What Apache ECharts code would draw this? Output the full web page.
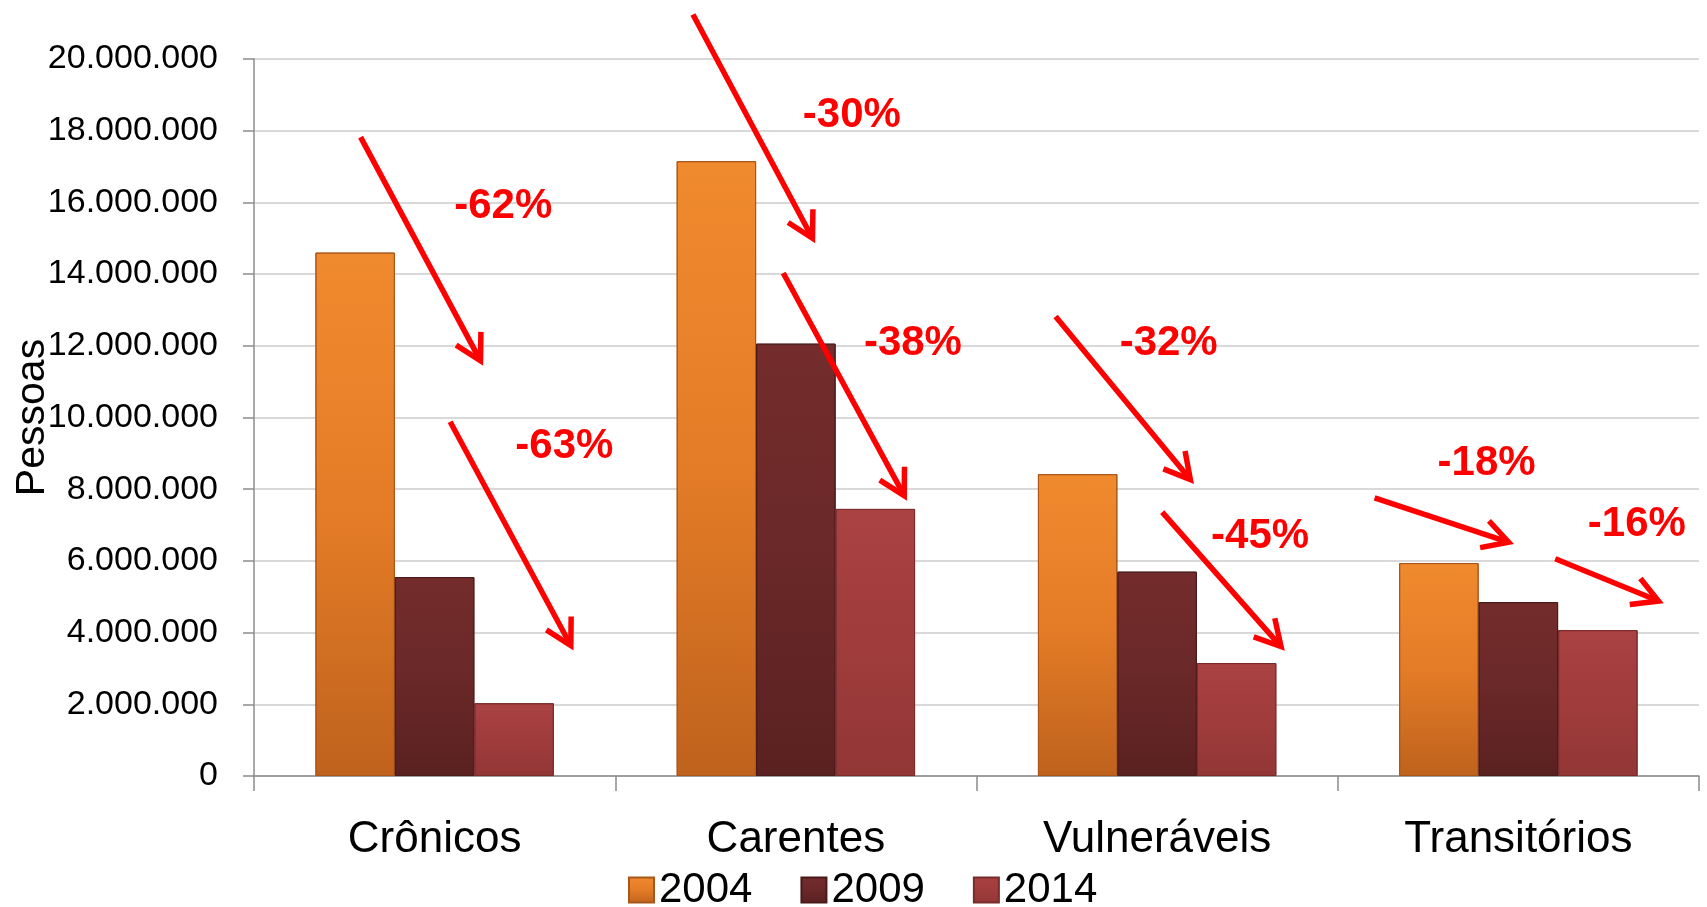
<!DOCTYPE html>
<html>
<head>
<meta charset="utf-8">
<script src="https://cdn.jsdelivr.net/npm/echarts@6/dist/echarts.min.js"></script>
<style>
html,body{margin:0;padding:0;background:#fff;}
#chart{width:1707px;height:907px;}
</style>
</head>
<body>
<div id="chart"></div>
<script>
// ---- data ----
const categories = ['Crônicos', 'Carentes', 'Vulneráveis', 'Transitórios'];
const years = ['2004', '2009', '2014'];
const v2004 = [14600000, 17150000, 8420000, 5940000];
const v2009 = [5550000, 12060000, 5700000, 4850000];
const v2014 = [2030000, 7450000, 3150000, 4070000];
const yMin = 0, yMax = 20000000, yStep = 2000000;
const yAxisName = 'Pessoas';

// annotation arrows (x in category units 0..4, y in persons)
const arrowFrom = [[0.295, 17820000], [0.543, 9880000], [1.215, 21240000], [1.465, 14030000],
                   [2.219, 12820000], [2.514, 7360000], [3.102, 7760000], [3.602, 6060000]];
const arrowTo   = [[0.627, 11580000], [0.877, 3640000], [1.546, 15000000], [1.800, 7820000],
                   [2.592, 8270000], [2.843, 3610000], [3.473, 6520000], [3.888, 4880000]];
const changeLabels = ['-62%', '-63%', '-30%', '-38%', '-32%', '-45%', '-18%', '-16%'];
const labelPos = [[0.690, 15900000], [0.859, 9180000], [1.655, 18420000], [1.824, 12060000],
                  [2.532, 12060000], [2.785, 6670000], [3.412, 8730000], [3.828, 7030000]];

const FONT = '"Liberation Sans", Arial, sans-serif';

function grad(c0, c1, c2) {
  return new echarts.graphic.LinearGradient(0, 0, 0, 1, [
    {offset: 0, color: c0}, {offset: 0.5, color: c1}, {offset: 1, color: c2}
  ]);
}
function fmt(v) {
  return String(v).replace(/\B(?=(\d{3})+(?!\d))/g, '.');
}

const chart = echarts.init(document.getElementById('chart'), null, {renderer: 'canvas'});

const seriesStyles = [
  {color: grad('#F08A2E', '#E47C27', '#BF621D'), borderColor: '#A9561A'},
  {color: grad('#742C2C', '#6A2828', '#5A2121'), borderColor: '#4A1A1A'},
  {color: grad('#AA4242', '#A03C3C', '#933636'), borderColor: '#7A2C2C'}
];
const values = [v2004, v2009, v2014];

chart.setOption({
  animation: false,
  backgroundColor: '#fff',
  grid: {left: 254, right: 8, top: 59, bottom: 131, containLabel: false, outerBoundsMode: 'none'},
  legend: {
    data: years,
    left: 623, top: 864,
    itemWidth: 25, itemHeight: 25, itemGap: 48,
    icon: 'rect',
    textStyle: {fontSize: 42, fontFamily: FONT, color: '#000'}
  },
  xAxis: [{
    type: 'category',
    data: categories,
    axisLine: {lineStyle: {color: '#8c8c8c', width: 1.5}},
    axisTick: {show: true, length: 15, alignWithLabel: false, interval: 0, lineStyle: {color: '#8c8c8c', width: 1.5}},
    axisLabel: {fontSize: 44, fontFamily: FONT, color: '#000', margin: 42, interval: 0}
  }, {
    type: 'value', min: 0, max: 4, show: false
  }],
  yAxis: {
    type: 'value',
    min: yMin, max: yMax, interval: yStep,
    name: yAxisName,
    nameLocation: 'middle',
    nameGap: 201,
    nameMoveOverlap: false,
    nameTextStyle: {fontSize: 41, fontFamily: FONT, color: '#000'},
    axisLine: {show: true, lineStyle: {color: '#8c8c8c', width: 1.5}},
    axisTick: {show: true, length: 11, lineStyle: {color: '#8c8c8c', width: 1.5}},
    axisLabel: {fontSize: 34, fontFamily: FONT, color: '#000', margin: 36, formatter: fmt},
    splitLine: {lineStyle: {color: '#d9d9d9', width: 2}}
  },
  series: years.map((y, i) => ({
    name: y,
    type: 'bar',
    xAxisIndex: 0,
    data: values[i],
    barGap: '0%',
    barCategoryGap: '34%',
    itemStyle: Object.assign({borderWidth: 1}, seriesStyles[i])
  }))
});

// arrows and labels placed through the chart's own scales
const RED = '#FF0000';
const graphics = [];
const headLen = 29, headAng = 29 * Math.PI / 180;
for (let i = 0; i < arrowFrom.length; i++) {
  const p1 = chart.convertToPixel({xAxisIndex: 1, yAxisIndex: 0}, arrowFrom[i]);
  const p2 = chart.convertToPixel({xAxisIndex: 1, yAxisIndex: 0}, arrowTo[i]);
  const dx = p1[0] - p2[0], dy = p1[1] - p2[1];
  const L = Math.hypot(dx, dy);
  const ux = dx / L, uy = dy / L;
  const rot = (a) => [ux * Math.cos(a) - uy * Math.sin(a), ux * Math.sin(a) + uy * Math.cos(a)];
  const a1 = rot(headAng), a2 = rot(-headAng);
  graphics.push({
    type: 'polyline', z: 100,
    shape: {points: [p1, [p2[0] + ux * 2, p2[1] + uy * 2]]},
    style: {stroke: RED, lineWidth: 5.5, fill: null}
  });
  graphics.push({
    type: 'polyline', z: 100,
    shape: {points: [[p2[0] + a1[0] * headLen, p2[1] + a1[1] * headLen], p2, [p2[0] + a2[0] * headLen, p2[1] + a2[1] * headLen]]},
    style: {stroke: RED, lineWidth: 5.5, fill: null, lineJoin: 'miter', miterLimit: 10}
  });
  const lp = chart.convertToPixel({xAxisIndex: 1, yAxisIndex: 0}, labelPos[i]);
  graphics.push({
    type: 'text', z: 101,
    x: lp[0], y: lp[1],
    style: {text: changeLabels[i], fill: RED, fontSize: 42, fontWeight: 'bold', fontFamily: FONT,
            align: 'center', verticalAlign: 'middle'}
  });
}
chart.setOption({graphic: graphics});
</script>
</body>
</html>
